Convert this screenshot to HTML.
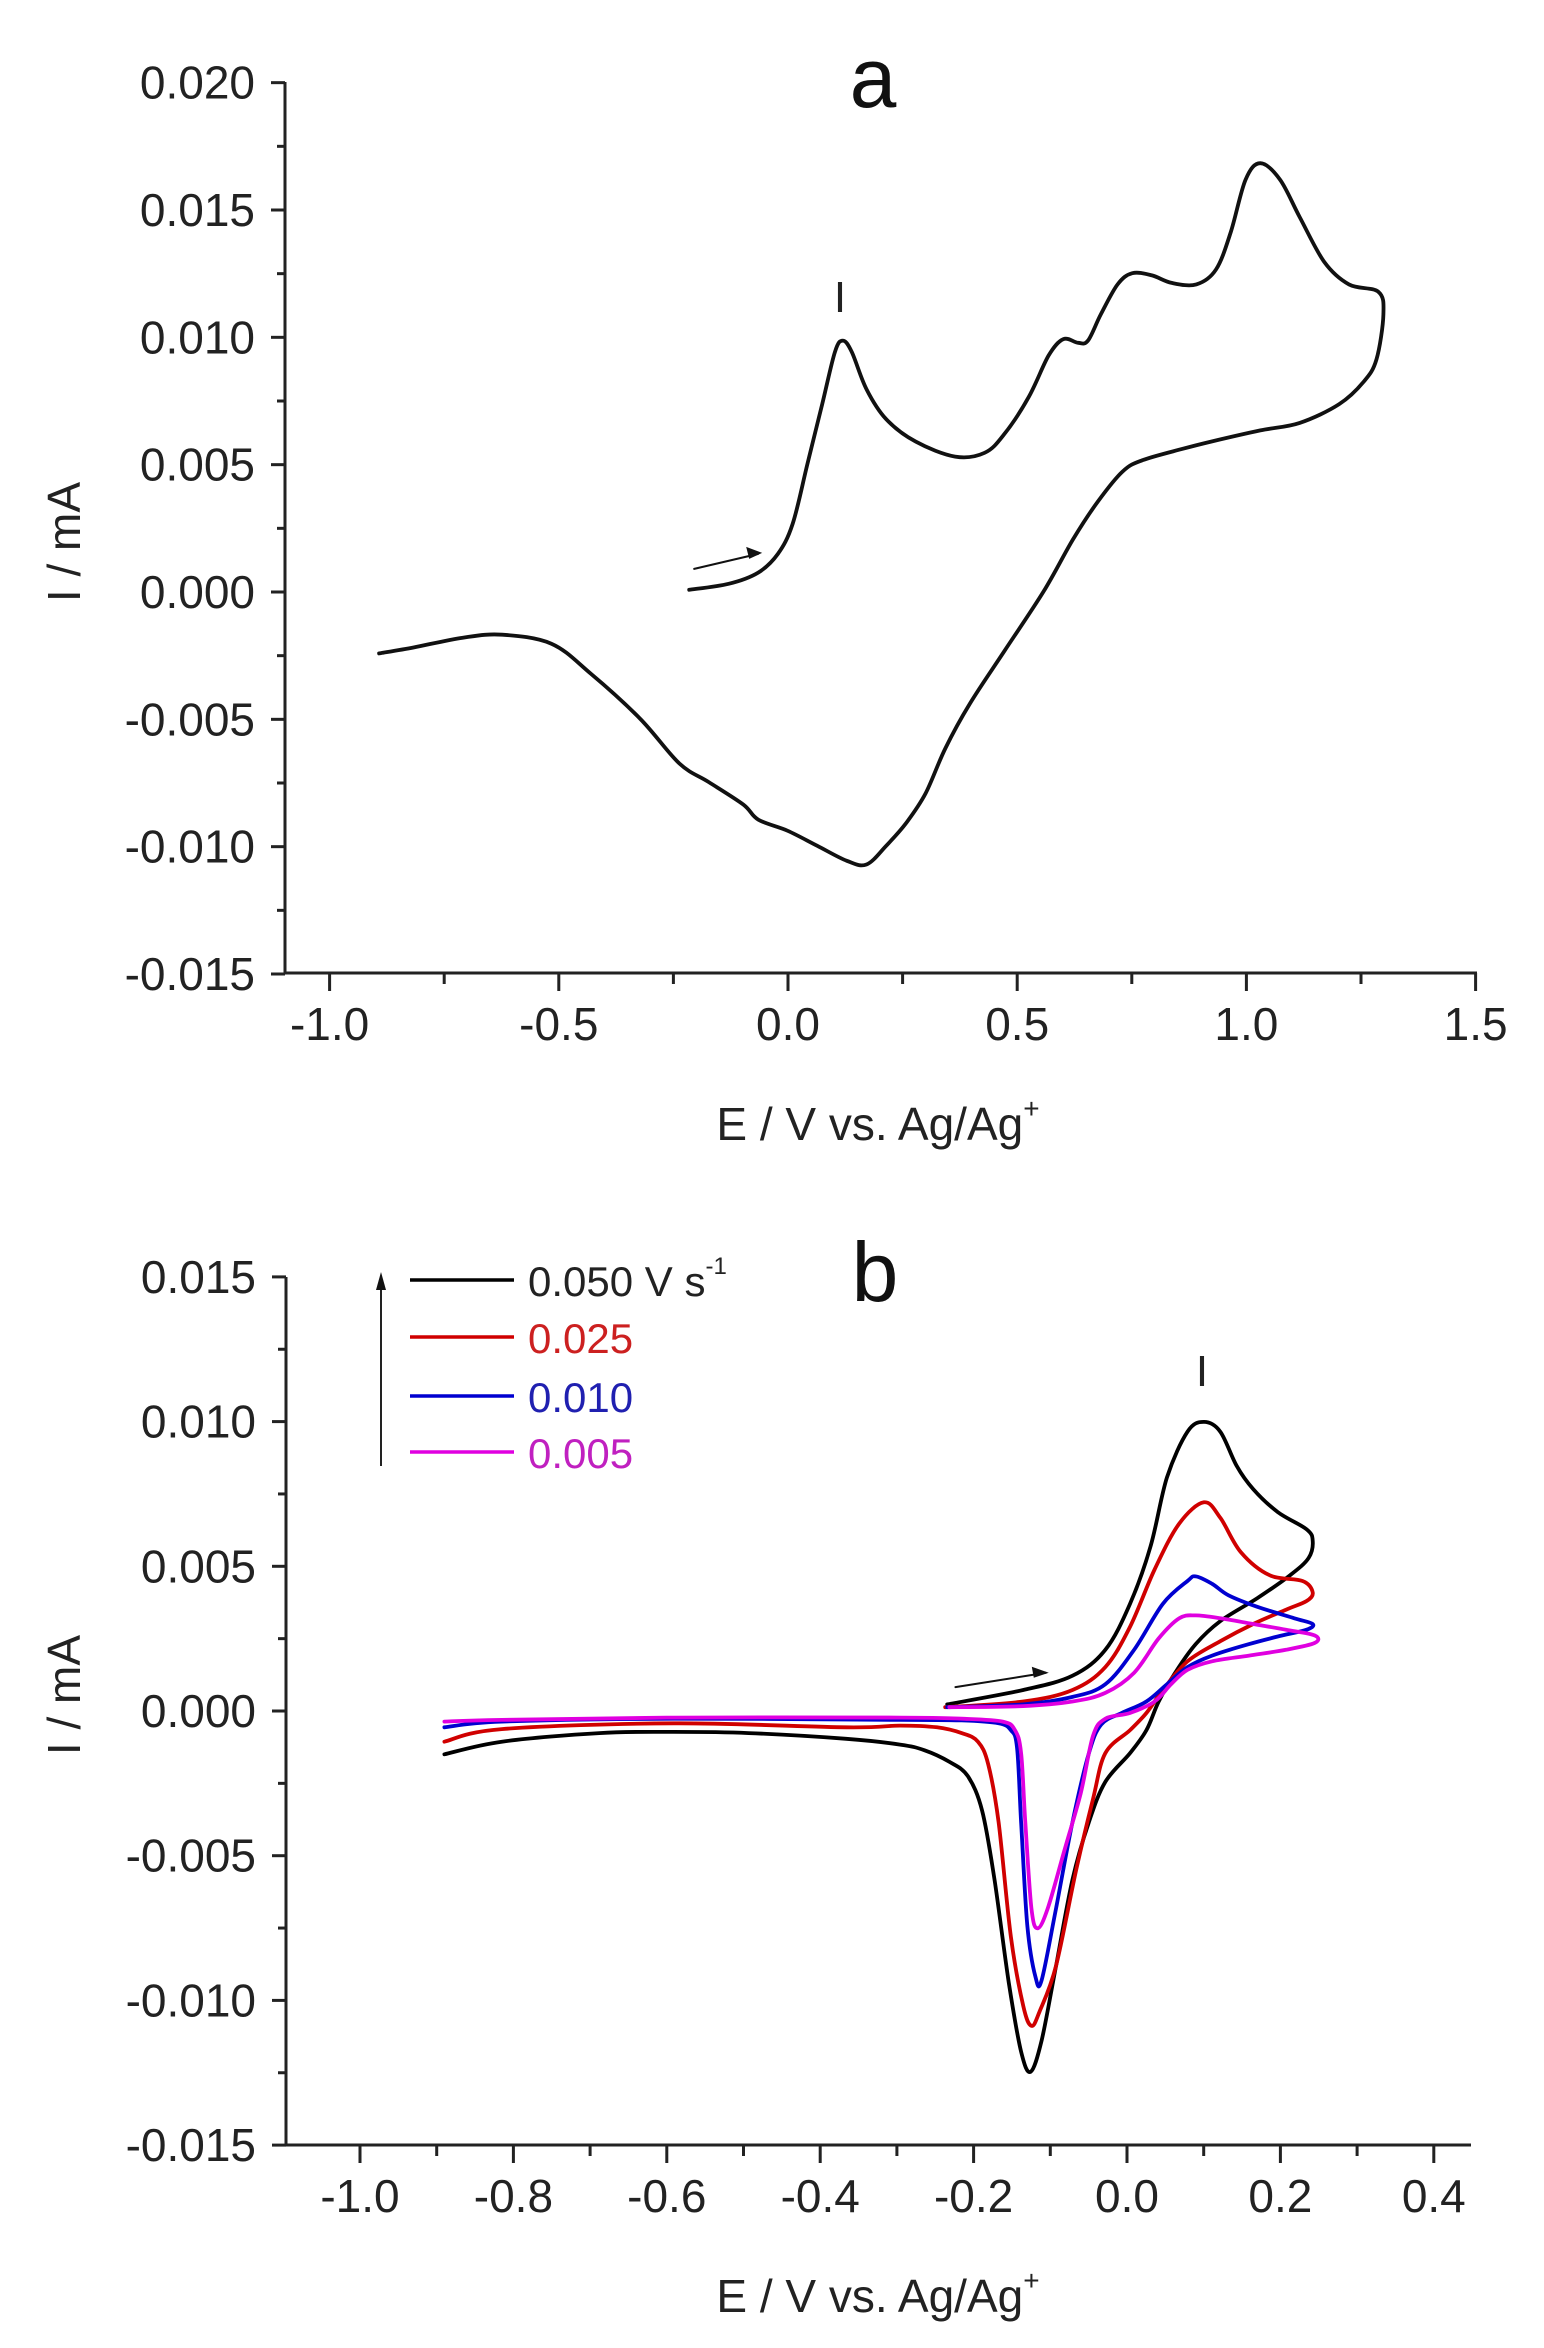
<!DOCTYPE html>
<html><head><meta charset="utf-8">
<style>
html,body{margin:0;padding:0;background:#fff;}
svg{display:block;}
text{font-family:"Liberation Sans",Arial,sans-serif;}
</style></head>
<body>
<svg id="s" width="1544" height="2348" viewBox="0 0 1544 2348" xmlns="http://www.w3.org/2000/svg">
<rect width="1544" height="2348" fill="#fff"/>
<g id="axes" stroke="#222" stroke-width="3" fill="none"></g>
<g id="curves" fill="none" stroke-width="3.8" stroke-linejoin="round" stroke-linecap="round"></g>
<g id="labels" fill="#222" font-size="46"></g>

<text x="873" y="107" font-size="84" text-anchor="middle" fill="#111">a</text>
<text x="840" y="312" font-size="44" text-anchor="middle" fill="#222">I</text>
<text x="878" y="1140" font-size="46" text-anchor="middle" fill="#222">E / V vs. Ag/Ag<tspan font-size="28" dy="-22">+</tspan></text>
<text transform="translate(80,542) rotate(-90)" font-size="46" text-anchor="middle" fill="#222">I / mA</text>

<text x="875" y="1301" font-size="84" text-anchor="middle" fill="#111">b</text>
<text x="1202" y="1386" font-size="44" text-anchor="middle" fill="#222">I</text>
<text x="878" y="2312" font-size="46" text-anchor="middle" fill="#222">E / V vs. Ag/Ag<tspan font-size="28" dy="-22">+</tspan></text>
<text transform="translate(80,1695) rotate(-90)" font-size="46" text-anchor="middle" fill="#222">I / mA</text>

<line x1="381" y1="1466" x2="381" y2="1285" stroke="#222" stroke-width="2"/>
<polygon points="381,1272 376,1290 386,1290" fill="#111"/>
<line x1="410" y1="1280" x2="514" y2="1280" stroke="#000" stroke-width="3.5"/>
<line x1="410" y1="1337" x2="514" y2="1337" stroke="#d00000" stroke-width="3.5"/>
<line x1="410" y1="1396" x2="514" y2="1396" stroke="#0000d0" stroke-width="3.5"/>
<line x1="410" y1="1452" x2="514" y2="1452" stroke="#e000e0" stroke-width="3.5"/>
<text x="528" y="1296" font-size="42" fill="#222">0.050 V s<tspan font-size="24" dy="-22">-1</tspan></text>
<text x="528" y="1353" font-size="42" fill="#cc2020">0.025</text>
<text x="528" y="1412" font-size="42" fill="#2020b0">0.010</text>
<text x="528" y="1468" font-size="42" fill="#c020c0">0.005</text>
</svg>
<script>
var NS="http://www.w3.org/2000/svg";
function el(p,tag,attrs,txt){var e=document.createElementNS(NS,tag);for(var k in attrs)e.setAttribute(k,attrs[k]);if(txt!=null)e.textContent=txt;p.appendChild(e);return e;}
var AX=document.getElementById('axes'),LB=document.getElementById('labels'),CV=document.getElementById('curves');
function axes(o){
 el(AX,'line',{x1:o.x0,y1:o.yTop,x2:o.x0,y2:o.y0});
 el(AX,'line',{x1:o.x0,y1:o.y0,x2:o.x1,y2:o.y0});
 for(var i=0;i<o.yt.length;i++){var v=o.yt[i],y=o.fy(v);
  el(AX,'line',{x1:o.x0-14,y1:y,x2:o.x0,y2:y});
  el(LB,'text',{x:o.x0-30,y:y+16,'text-anchor':'end'},v.toFixed(3));
  if(i<o.yt.length-1){var ym=o.fy((v+o.yt[i+1])/2);el(AX,'line',{x1:o.x0-8,y1:ym,x2:o.x0,y2:ym});}
 }
 for(var j=0;j<o.xt.length;j++){var u=o.xt[j],x=o.fx(u);
  el(AX,'line',{x1:x,y1:o.y0,x2:x,y2:o.y0+18});
  el(LB,'text',{x:x,y:o.y0+67,'text-anchor':'middle'},o.xl(u));
  var xm=o.fx(u+o.xs/2); if(xm<o.x1-2) el(AX,'line',{x1:xm,y1:o.y0,x2:xm,y2:o.y0+11});
 }
 if(o.minorLeft){var xm2=o.fx(o.xt[0]-o.xs/2); if(xm2>o.x0+2) el(AX,'line',{x1:xm2,y1:o.y0,x2:xm2,y2:o.y0+11});}
}
axes({x0:285,x1:1477,y0:973,yTop:82,fy:function(v){return 592-v*25467;},fx:function(v){return 788+458.4*v;},
 yt:[-0.015,-0.010,-0.005,0,0.005,0.010,0.015,0.020],xt:[-1,-0.5,0,0.5,1,1.5],xs:0.5,xl:function(u){return u.toFixed(1);},minorLeft:false});
axes({x0:286,x1:1471,y0:2145,yTop:1277,fy:function(v){return 1711-v*28940;},fx:function(v){return 1127+767*v;},
 yt:[-0.015,-0.010,-0.005,0,0.005,0.010,0.015],xt:[-1,-0.8,-0.6,-0.4,-0.2,0,0.2,0.4],xs:0.2,xl:function(u){return (Math.abs(u)<1e-9?0:u).toFixed(1);},minorLeft:true});

function cr(pts){
 var d="M"+pts[0][0].toFixed(1)+","+pts[0][1].toFixed(1);
 for(var i=0;i<pts.length-1;i++){
  var p0=pts[i-1]||pts[i],p1=pts[i],p2=pts[i+1],p3=pts[i+2]||p2;
  var c1=[p1[0]+(p2[0]-p0[0])/6,p1[1]+(p2[1]-p0[1])/6],c2=[p2[0]-(p3[0]-p1[0])/6,p2[1]-(p3[1]-p1[1])/6];
  d+=" C"+c1[0].toFixed(1)+","+c1[1].toFixed(1)+" "+c2[0].toFixed(1)+","+c2[1].toFixed(1)+" "+p2[0].toFixed(1)+","+p2[1].toFixed(1);
 }
 return d;
}
function z1(a){return a.map(function(p){return [p[0]/1.0156,p[1]/1.336];});}
function z10(a){return a.map(function(p){return [900+p[0]/2.435,1248+p[1]/1.742];});}
function z9(a){return a.map(function(p){return [100+p[0]/1.742,1248+p[1]/1.742];});}

var A=z1([[700,788],[740,780],[770,765],[790,740],[805,700],[820,620],[835,540],[848,470],[856,455],[865,470],[880,520],[900,560],[930,590],[970,610],[1000,605],[1020,580],[1045,530],[1065,475],[1080,453],[1095,458],[1105,455],[1118,420],[1135,380],[1150,365],[1170,368],[1190,378],[1215,380],[1235,360],[1250,310],[1265,240],[1280,218],[1300,240],[1320,290],[1345,350],[1370,380],[1400,390],[1405,420],[1398,480],[1385,510],[1360,540],[1320,565],[1280,575],[1230,590],[1200,600],[1160,615],[1140,630],[1115,670],[1090,720],[1060,790],[1020,870],[985,940],[960,1000],[940,1060],[920,1100],[900,1130],[880,1155],[860,1150],[830,1130],[800,1110],[770,1095],[755,1075],[720,1045],[690,1020],[650,960],[600,900],[560,860],[510,848],[470,852],[420,865],[385,873]]);
el(CV,'path',{d:cr(A),stroke:'#111'});
var aa=z1([[705,760],[770,740]]);
el(CV,'line',{x1:aa[0][0],y1:aa[0][1],x2:aa[1][0],y2:aa[1][1],stroke:'#111','stroke-width':2});
el(CV,'polygon',{points:(aa[1][0]+4)+","+(aa[1][1]-1)+" "+(aa[1][0]-12)+","+(aa[1][1]-7)+" "+(aa[1][0]-9)+","+(aa[1][1]+5),fill:'#111',stroke:'none'});

var B={
 '#000':z10([[115,795],[300,770],[420,745],[500,700],[560,620],[610,520],[650,400],[700,320],[740,303],[780,320],[820,380],[860,420],[920,460],[990,490],[1005,510],[995,540],[950,570],[870,610],[780,650],[720,690],[670,740],[630,790],[600,840],[560,880],[500,930],[460,1000],[420,1100],[380,1250],[345,1380],[318,1435],[295,1400],[265,1280],[230,1100],[200,980],[165,920],[120,895],[60,875],[0,865]]).concat(z9([[1300,855],[1130,845],[1000,843],[870,845],[700,860],[600,882]])),
 '#d00000':z10([[110,800],[300,790],[420,770],[500,730],[560,660],[620,560],[680,480],[740,443],[780,470],[830,530],[900,570],[980,580],[1005,600],[990,615],[940,630],[860,655],[780,685],[700,720],[640,770],[600,810],[560,840],[500,880],[470,960],[430,1080],[380,1250],[340,1330],[320,1355],[300,1320],[270,1200],[240,1000],[215,900],[190,860],[150,845],[90,835],[0,832]]).concat(z9([[1300,835],[1000,828],[700,838],[600,860]])),
 '#0000d0':z10([[115,800],[300,795],[420,782],[500,760],[570,700],[640,620],[700,580],[720,572],[760,585],[800,605],[870,625],[960,645],[1005,655],[990,665],[930,675],[850,690],[760,710],[700,730],[650,760],[600,790],[540,810],[490,830],[460,880],[420,1000],[380,1150],[345,1275],[330,1270],[310,1180],[295,1000],[285,870],[270,840],[240,828],[150,823],[0,822]]).concat(z9([[1000,820],[700,825],[600,835]])),
 '#e000e0':z10([[120,800],[300,798],[420,790],[500,775],[570,740],[630,680],[680,645],[720,640],[780,645],[860,655],[940,665],[1010,675],[1010,688],[940,700],[850,710],[760,720],[700,735],[660,760],[620,790],[560,810],[500,820],[470,850],[440,950],[400,1050],[360,1150],[335,1185],[320,1150],[305,1000],[295,880],[280,840],[250,825],[150,820],[0,818]]).concat(z9([[1000,818],[700,822],[600,825]]))
};
for(var c in B) el(CV,'path',{d:cr(B[c]),stroke:c});
var ba=z10([[135,765],[355,740]]);
el(CV,'line',{x1:ba[0][0],y1:ba[0][1],x2:ba[1][0],y2:ba[1][1],stroke:'#111','stroke-width':2});
el(CV,'polygon',{points:(ba[1][0]+3)+","+(ba[1][1])+" "+(ba[1][0]-14)+","+(ba[1][1]-6)+" "+(ba[1][0]-12)+","+(ba[1][1]+5),fill:'#111',stroke:'none'});
</script>
</body></html>
